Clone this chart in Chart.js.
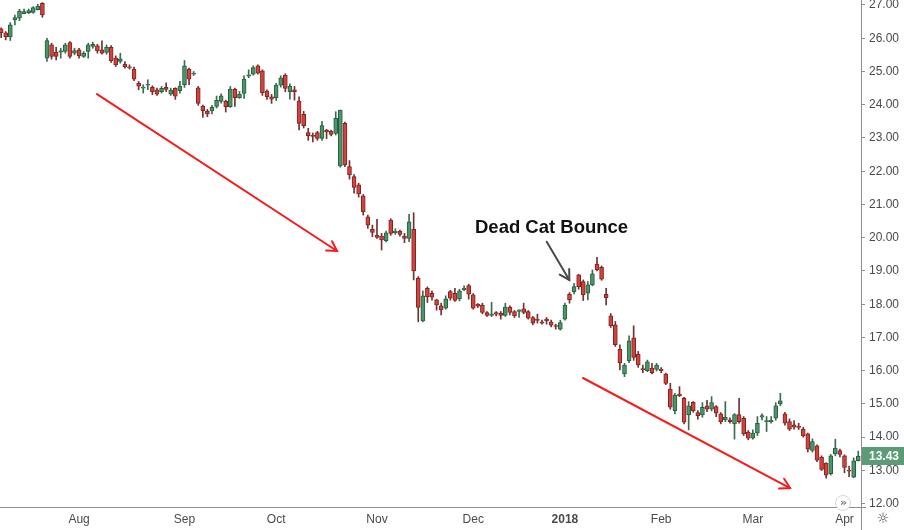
<!DOCTYPE html>
<html><head><meta charset="utf-8">
<script src="https://cdn.jsdelivr.net/npm/chart.js@4.4.1/dist/chart.umd.min.js"></script>
<style>html,body{margin:0;padding:0;background:#fff;overflow:hidden}#wrap{width:904px;height:530px;position:relative}</style>
</head><body><div id="wrap"><canvas id="c" width="904" height="530"></canvas></div>
<script>
// ---- data (one entry per trading day) ----
const openP = [26.28,26.16,26.04,26.55,26.6,26.74,26.77,26.78,26.86,27.05,
25.4,25.8,25.58,25.58,25.6,25.87,25.55,25.65,25.45,25.6,
25.75,25.77,25.65,25.57,25.73,25.4,25.3,25.22,25.14,25.07,
24.64,24.5,24.59,24.52,24.45,24.39,24.52,24.32,24.49,24.42,
24.6,25.07,24.92,24.51,23.96,23.81,23.81,23.95,24.1,24.11,
23.94,24.46,24.21,24.34,24.86,24.92,25.17,25.02,24.41,24.24,
24.21,24.59,24.89,24.39,24.45,24.11,23.71,23.16,23.07,23.16,
22.99,23.24,23.21,23.14,22.16,23.44,22.14,21.84,21.59,21.26,
20.63,20.25,20.08,20.05,19.91,20.53,20.15,20.2,20.05,19.98,
20.25,18.78,17.5,18.48,18.33,18.13,17.95,17.88,18.38,18.33,
18.16,18.43,18.56,18.28,18.0,17.97,17.75,17.66,17.75,17.73,
17.66,17.91,17.78,17.78,17.86,17.78,17.6,17.55,17.47,17.55,
17.47,17.35,17.25,17.55,18.3,18.38,18.88,18.68,18.33,18.58,
19.21,19.11,18.3,17.65,17.38,16.64,15.9,16.3,16.99,16.5,
16.05,16.0,16.08,16.04,16.05,15.9,15.45,14.8,15.3,15.17,
14.67,15.05,14.74,14.67,14.94,14.84,14.92,14.7,14.52,14.52,
14.4,14.68,14.57,14.15,13.97,14.13,14.6,14.47,14.47,14.57,
15.0,14.7,14.47,14.37,14.33,14.24,14.1,13.6,13.74,13.4,
13.22,12.9,13.5,13.6,13.44,13.0,12.8,13.29];
const highP = [26.31,26.2,26.47,26.7,26.87,26.88,26.88,26.95,27.02,27.07,
26.0,25.85,25.73,25.7,25.85,25.9,25.7,25.7,25.6,25.85,
25.88,25.82,25.92,25.8,25.78,25.47,25.55,25.3,25.2,25.13,
24.7,24.6,24.75,24.57,24.5,24.55,24.66,24.5,24.51,24.7,
25.33,25.1,25.0,24.55,23.99,23.86,23.98,24.26,24.33,24.14,
24.55,24.5,24.4,24.87,25.05,25.17,25.2,25.05,24.45,24.31,
24.64,24.87,24.93,24.63,24.55,24.24,23.8,23.29,23.15,23.2,
23.5,23.26,23.24,23.79,23.84,23.48,22.32,21.9,21.64,21.3,
20.68,20.38,20.55,20.13,20.2,20.57,20.27,20.23,20.13,20.7,
20.75,18.83,18.4,18.52,18.4,18.15,18.03,18.25,18.42,18.48,
18.45,18.55,18.6,18.32,18.02,18.03,17.78,18.06,17.78,17.78,
18.03,17.95,17.81,17.83,18.03,17.81,17.63,17.7,17.52,17.6,
17.52,17.4,17.52,18.03,18.35,18.63,18.9,18.73,18.68,19.03,
19.41,19.15,18.48,17.72,17.48,16.78,16.22,17.05,17.35,16.58,
16.17,16.32,16.22,16.22,16.09,15.93,15.62,15.32,15.52,15.2,
15.07,15.07,14.8,15.04,15.11,15.22,14.95,14.74,15.07,14.58,
14.71,15.17,14.62,14.2,14.22,14.62,14.7,14.62,14.62,15.04,
15.32,14.75,14.55,14.5,14.42,14.3,14.12,13.95,13.77,13.44,
13.23,13.48,13.94,13.64,13.47,13.13,13.38,13.58];
const lowP = [26.02,25.95,25.93,26.4,26.53,26.74,26.74,26.75,26.85,26.63,
25.3,25.37,25.35,25.4,25.55,25.4,25.5,25.4,25.42,25.4,
25.7,25.55,25.52,25.52,25.27,25.15,25.25,25.1,25.07,24.72,
24.45,24.35,24.45,24.3,24.28,24.35,24.39,24.28,24.16,24.35,
24.52,24.6,24.88,23.98,23.62,23.64,23.72,23.9,24.05,23.78,
23.92,23.95,24.19,24.19,24.81,24.89,24.92,24.28,24.16,24.04,
24.13,24.53,24.39,24.17,24.14,23.24,23.3,22.93,22.88,22.93,
22.93,22.98,23.06,23.09,22.12,22.14,21.76,21.34,21.22,20.68,
20.28,20.03,19.98,19.63,19.87,20.07,20.1,20.05,19.85,19.88,
18.73,17.47,17.47,18.05,18.12,17.82,17.68,17.85,18.12,18.08,
18.1,18.41,18.15,17.85,17.9,17.71,17.63,17.63,17.65,17.55,
17.63,17.68,17.6,17.6,17.71,17.55,17.38,17.43,17.4,17.4,
17.32,17.25,17.22,17.52,18.03,18.31,18.45,18.11,18.13,18.55,
19.0,18.72,17.98,17.3,16.73,16.02,15.82,16.24,16.31,16.1,
15.94,15.97,15.9,15.99,15.94,15.58,14.84,14.7,15.22,14.4,
14.22,14.75,14.54,14.6,14.77,14.79,14.62,14.4,14.47,14.42,
13.94,14.42,14.05,13.92,13.94,14.05,14.52,14.17,14.42,14.51,
14.95,14.36,14.2,14.24,14.23,14.0,13.56,13.55,13.26,13.0,
12.77,12.86,13.44,13.41,12.93,12.81,12.78,13.28];
const closeP = [26.17,26.04,26.4,26.62,26.82,26.8,26.83,26.92,26.97,26.7,
25.93,25.45,25.45,25.62,25.8,25.45,25.63,25.47,25.55,25.8,
25.82,25.62,25.55,25.73,25.32,25.2,25.38,25.14,25.11,24.77,
24.56,24.52,24.62,24.39,24.32,24.49,24.46,24.44,24.26,24.56,
25.17,24.77,24.95,24.04,23.82,23.72,23.92,24.13,24.27,23.94,
24.47,24.21,24.31,24.77,24.9,25.12,24.95,24.36,24.24,24.17,
24.59,24.81,24.49,24.56,24.39,23.44,23.37,23.07,23.05,22.99,
23.37,23.18,23.11,23.59,23.84,22.19,21.89,21.51,21.32,20.78,
20.38,20.16,20.01,19.93,20.15,20.13,20.2,20.1,19.98,20.48,
19.0,17.9,18.25,18.23,18.21,17.98,17.83,18.16,18.18,18.11,
18.4,18.48,18.3,17.88,17.94,17.75,17.66,17.71,17.7,17.66,
17.91,17.75,17.65,17.83,17.75,17.58,17.43,17.51,17.43,17.5,
17.37,17.33,17.45,17.97,18.13,18.53,18.53,18.28,18.58,18.91,
19.03,18.75,18.2,17.35,16.78,16.24,16.17,16.9,16.4,16.17,
16.03,16.27,15.94,16.17,16.0,15.62,14.9,15.27,15.25,14.45,
14.94,14.8,14.65,14.9,14.84,15.04,14.72,14.47,14.6,14.47,
14.68,14.47,14.1,13.97,14.12,14.42,14.65,14.5,14.51,14.94,
15.09,14.42,14.24,14.3,14.29,14.04,13.64,13.87,13.31,13.03,
12.86,13.44,13.67,13.48,13.09,12.98,13.29,13.43];
const monthLabels = ['Aug','Sep','Oct','Nov','Dec','2018','Feb','Mar','Apr'];
const monthIndex  = [17,40,60,82,103,123,144,164,184];
const yTicks = [12,13,14,15,16,17,18,19,20,21,22,23,24,25,26,27];
const lastPrice = 13.43;
const calloutText = 'Dead Cat Bounce';
// annotation anchors in data space: [day index, price]
const trendArrows = [[[20.91,24.32],[73.28,19.60]], [[126.95,15.78],[172.11,12.47]]];
const calloutArrow = [[119.03,19.88],[123.96,18.73]];
const calloutAnchor = [103.38,20.29];

// ---- chart ----
Chart.defaults.font.family = "'Liberation Sans', Arial, sans-serif";
const up = openP.map((o,i)=>closeP[i] >= o);
const bodyFill = up.map(u => u ? '#4d946a' : '#d0433e');
const bodyLine = up.map(u => u ? '#23603d' : '#842220');
const wickCol  = up.map(u => u ? '#3d6b50' : '#6e3432');

const bodies = openP.map((o,i)=>({x:i, y:[o, closeP[i]]}));
const wicks  = lowP.map((l,i)=>({x:i, y:[l, highP[i]]}));

const deco = {
  id:'deco',
  afterDraw(chart){
    const {ctx, chartArea:a, scales:{x, y}} = chart;
    const px = p => [x.getPixelForValue(p[0]), y.getPixelForValue(p[1])];
    ctx.save();
    // axis lines
    ctx.strokeStyle = '#8e8e8e'; ctx.lineWidth = 1;
    ctx.beginPath(); ctx.moveTo(Math.round(a.right)+0.5, 0); ctx.lineTo(Math.round(a.right)+0.5, 530); ctx.stroke();
    ctx.beginPath(); ctx.moveTo(0, Math.round(a.bottom)+0.5); ctx.lineTo(a.right+5, Math.round(a.bottom)+0.5); ctx.stroke();
    // arrows
    function arrow(p0, p1, color, w){
      const [x0,y0] = px(p0), [x1,y1] = px(p1);
      ctx.strokeStyle = color; ctx.lineWidth = w; ctx.lineCap = 'round';
      ctx.beginPath(); ctx.moveTo(x0,y0); ctx.lineTo(x1,y1); ctx.stroke();
      const ang = Math.atan2(y1-y0, x1-x0), L = 11, sp = Math.PI/6;
      ctx.beginPath();
      ctx.moveTo(x1 - L*Math.cos(ang - sp), y1 - L*Math.sin(ang - sp));
      ctx.lineTo(x1, y1);
      ctx.lineTo(x1 - L*Math.cos(ang + sp), y1 - L*Math.sin(ang + sp));
      ctx.stroke();
    }
    trendArrows.forEach(t => arrow(t[0], t[1], '#f41c1c', 2));
    arrow(calloutArrow[0], calloutArrow[1], '#4a4a4a', 2);
    // callout text
    const [tx, ty] = px(calloutAnchor);
    ctx.fillStyle = '#111'; ctx.font = "bold 18.5px 'Liberation Sans', Arial, sans-serif";
    ctx.textAlign = 'left'; ctx.textBaseline = 'middle';
    ctx.fillText(calloutText, tx, ty);
    // last price box
    const yp = y.getPixelForValue(lastPrice);
    ctx.fillStyle = '#5b9b77';
    ctx.fillRect(Math.round(a.right)+1, Math.round(yp)-9, 904 - Math.round(a.right) - 1, 18);
    ctx.fillStyle = '#fff'; ctx.font = "bold 12px 'Liberation Sans', Arial, sans-serif";
    ctx.textAlign = 'left'; ctx.fillText(lastPrice.toFixed(2), a.right + 8, yp + 0.5);
    // scroll button
    ctx.beginPath(); ctx.arc(843, 503, 7.5, 0, Math.PI*2);
    ctx.fillStyle = '#fff'; ctx.fill(); ctx.strokeStyle = '#d6d6d6'; ctx.lineWidth = 1; ctx.stroke();
    ctx.fillStyle = '#777'; ctx.font = "bold 11px 'DejaVu Sans', sans-serif"; ctx.textAlign = 'center';
    ctx.fillText('\u00BB', 843.5, 503);
    // settings glyph
    ctx.fillStyle = '#444'; ctx.font = "14px 'DejaVu Sans', sans-serif";
    ctx.fillText('\u263C', 883, 519);
    ctx.restore();
  }
};

new Chart(document.getElementById('c'), {
  type: 'bar',
  data: {
    datasets: [
      { data: bodies, backgroundColor: bodyFill, borderColor: bodyLine, borderWidth: 1,
        barThickness: 4, minBarLength: 1, grouped: false, borderSkipped: false },
      { data: wicks, backgroundColor: wickCol, borderWidth: 0,
        barThickness: 1, minBarLength: 1, grouped: false }
    ]
  },
  options: {
    responsive: false, animation: false, devicePixelRatio: 1,
    layout: { padding: 0 },
    plugins: { legend: { display: false }, tooltip: { enabled: false } },
    scales: {
      x: {
        type: 'linear', min: -0.25, max: 187.6, offset: false,
        grid: { display: false, drawTicks: false }, border: { display: false },
        ticks: {
          autoSkip: false, maxRotation: 0, padding: 5, color: '#4a4a4a',
          font: c => ({ size: 12, weight: (c.tick && c.tick.value === monthIndex[5]) ? 'bold' : 'normal' }),
          callback: v => { const k = monthIndex.indexOf(v); return k >= 0 ? monthLabels[k] : ''; }
        },
        afterBuildTicks: s => { s.ticks = monthIndex.map(v => ({ value: v })); },
        afterFit: s => { s.height = 23; s.paddingLeft = 0; s.paddingRight = 0; }
      },
      y: {
        position: 'right', min: 11.9, max: 27.15,
        grid: { drawOnChartArea: false, drawTicks: true, tickLength: 4, color: '#8e8e8e' },
        border: { display: false },
        ticks: { padding: 4, color: '#4a4a4a', font: { size: 12 }, callback: v => Number(v).toFixed(2) },
        afterBuildTicks: s => { s.ticks = yTicks.map(v => ({ value: v })); },
        afterFit: s => { s.width = 43; s.paddingTop = 0; s.paddingBottom = 0; }
      }
    }
  },
  plugins: [deco]
});
</script>
</body></html>
